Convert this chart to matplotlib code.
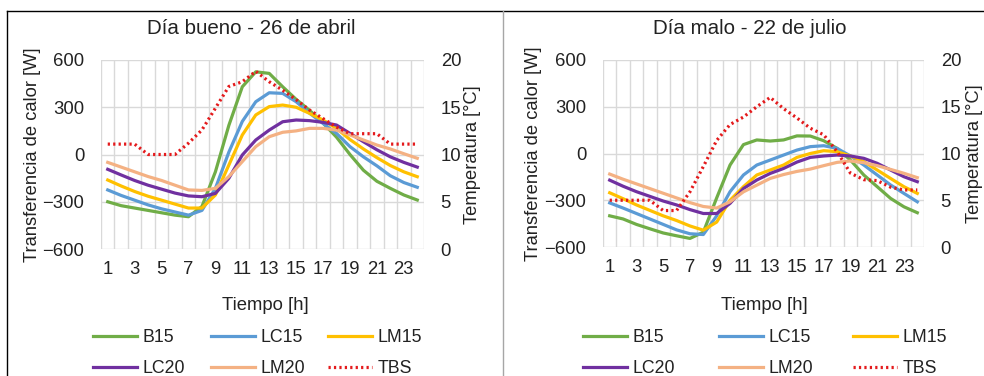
import matplotlib
matplotlib.use('Agg')
import matplotlib.pyplot as plt
from matplotlib.lines import Line2D
import numpy as np

plt.rcParams['font.family'] = ['Liberation Sans', 'DejaVu Sans']

hours = list(range(1, 25))
hour_ticks = list(range(1, 25, 2))

# Día bueno - 26 de abril  (W)
bueno_B15 = [-300, -325, -340, -355, -370, -385, -395, -330, -110, 185, 430, 525,
             515, 430, 350, 280, 200, 110, 0, -100, -170, -215, -257, -289]
bueno_LC15 = [-225, -260, -290, -320, -345, -365, -385, -355, -215, 15, 210, 335,
              392, 388, 335, 262, 197, 134, 50, -15, -72, -135, -178, -208]
bueno_LM15 = [-162, -200, -235, -265, -290, -315, -340, -340, -257, -67, 124, 251,
              304, 314, 300, 261, 219, 166, 95, 35, -20, -70, -110, -141]
bueno_LC20 = [-94, -130, -165, -195, -220, -245, -263, -268, -247, -151, -3, 92,
              155, 208, 219, 215, 204, 187, 134, 81, 30, -15, -50, -80]
bueno_LM20 = [-50, -80, -110, -140, -165, -195, -225, -228, -215, -140, -45, 50,
              113, 141, 150, 166, 166, 155, 124, 92, 60, 35, 5, -24]
# temperatura de bulbo seco (°C)
bueno_TBS = [11.1, 11.1, 11.1, 10.0, 10.0, 10.0, 11.2, 12.6, 14.9, 17.2, 17.7, 18.8,
             17.7, 16.8, 15.8, 14.7, 13.8, 12.9, 12.2, 12.2, 12.2, 11.1, 11.1, 11.1]

# Día malo - 22 de julio  (W)
malo_B15 = [-400, -420, -455, -483, -510, -528, -545, -505, -285, -74, 57, 87,
            80, 87, 113, 112, 82, 33, -42, -138, -213, -288, -342, -380]
malo_LC15 = [-317, -350, -385, -420, -455, -490, -515, -520, -400, -245, -138, -74,
             -42, -10, 22, 44, 50, 33, -16, -74, -138, -202, -256, -310]
malo_LM15 = [-252, -290, -330, -365, -400, -430, -465, -492, -440, -300, -213, -138,
             -106, -74, -25, 0, 18, 12, -16, -52, -106, -160, -213, -256]
malo_LC20 = [-171, -210, -245, -275, -305, -330, -360, -385, -385, -320, -225, -170,
             -128, -96, -55, -25, -16, -10, -16, -31, -63, -106, -149, -181]
malo_LM20 = [-132, -165, -195, -225, -255, -285, -315, -340, -350, -310, -246, -203,
             -160, -135, -115, -100, -78, -57, -48, -59, -78, -102, -127, -155]
malo_TBS = [5.0, 5.0, 5.0, 5.0, 3.9, 3.9, 5.9, 8.6, 11.4, 13.1, 13.9, 15.0,
            16.0, 14.8, 13.8, 12.7, 12.0, 10.2, 7.9, 7.2, 7.1, 6.4, 6.1, 6.1]

series_names = ['B15', 'LC15', 'LM15', 'LC20', 'LM20']
colors = ['#70AD47', '#5B9BD5', '#FFC000', '#7030A0', '#F4B183']
tbs_color = '#E41A1C'
tbs_style = (0, (0.7, 1.0))
text_color = '#222222'
grid_color = '#D9D9D9'

fig = plt.figure(figsize=(9.84, 3.76), dpi=100)
W, H = 984, 376


def px_axes(x0, y0, x1, y1):
    return fig.add_axes([x0 / W, 1 - y1 / H, (x1 - x0) / W, (y1 - y0) / H])


def draw_panel(ax, data, tbs, lab_left, lab_right):
    for name, vals, c in zip(series_names, data, colors):
        ax.plot(hours, vals, color=c, lw=2.3, label=name, zorder=3)
    ax.set_xlim(0.5, 24.5)
    ax.set_ylim(-600, 600)
    ax.set_yticks([-600, -300, 0, 300, 600])
    ax.set_xticks(hour_ticks)
    ax.set_xticks(np.arange(0.5, 25, 1), minor=True)
    ax.grid(True, which='minor', axis='x', color=grid_color, lw=1)
    ax.grid(True, which='major', axis='y', color=grid_color, lw=1)
    ax.set_axisbelow(True)
    ax.tick_params(which='both', length=0, labelsize=13.3, colors=text_color)
    ax.tick_params(axis='y', pad=12)
    ax.tick_params(axis='x', pad=9)
    for s in ax.spines.values():
        s.set_visible(False)
    ax.set_ylabel('Transferencia de calor [W]', fontsize=13.2, color=text_color,
                  va='center')
    ax.yaxis.set_label_coords(lab_left, 0.5)

    ax2 = ax.twinx()
    ax2.plot(hours, tbs, color=tbs_color, lw=2.3, ls=tbs_style,
             dash_capstyle='butt', label='TBS', zorder=4)
    ax2.set_ylim(0, 20)
    ax2.set_yticks([0, 5, 10, 15, 20])
    ax2.tick_params(length=0, labelsize=13.3, colors=text_color, pad=12)
    for s in ax2.spines.values():
        s.set_visible(False)
    ax2.set_ylabel('Temperatura [°C]', fontsize=13.2, color=text_color, va='center')
    ax2.yaxis.set_label_coords(lab_right, 0.5)
    return ax2


ax_l = px_axes(101, 60, 424, 249)
draw_panel(ax_l, [bueno_B15, bueno_LC15, bueno_LM15, bueno_LC20, bueno_LM20],
           bueno_TBS, -0.2136, 1.1517)
ax_r = px_axes(603, 60, 924, 247)
draw_panel(ax_r, [malo_B15, malo_LC15, malo_LM15, malo_LC20, malo_LM20],
           malo_TBS, -0.218, 1.1558)

fig.text(251 / W, 1 - 28 / H, 'Día bueno - 26 de abril', ha='center', va='center',
         fontsize=14.8, color=text_color)
fig.text(750 / W, 1 - 28 / H, 'Día malo - 22 de julio', ha='center', va='center',
         fontsize=14.8, color=text_color)
fig.text(265 / W, 1 - 306 / H, 'Tiempo [h]', ha='center', va='center',
         fontsize=13.3, color=text_color)
fig.text(764 / W, 1 - 306 / H, 'Tiempo [h]', ha='center', va='center',
         fontsize=13.3, color=text_color)

# legend: one small legend per column so the columns sit where Excel put them
handles = [Line2D([], [], color=c, lw=2.3) for c in colors]
handles.append(Line2D([], [], color=tbs_color, lw=2.3, ls=tbs_style))
labels = series_names + ['TBS']
columns = [(0, 3), (1, 4), (2, 5)]
for xs in [(93, 211, 328), (583, 719, 853)]:
    for x0, (a, b) in zip(xs, columns):
        fig.legend([handles[a], handles[b]], [labels[a], labels[b]],
                   loc='upper left', bbox_to_anchor=(x0 / W, 1 - 329 / H),
                   frameon=False, fontsize=12.8, handlelength=2.5,
                   handletextpad=0.3, labelspacing=0.8, borderpad=0,
                   borderaxespad=0, labelcolor=text_color)

# panel borders
fig.add_artist(Line2D([7 / W, 1], [1 - 11 / H, 1 - 11 / H], color='#000000', lw=1))
fig.add_artist(Line2D([7 / W, 7 / W], [0, 1 - 11 / H], color='#000000', lw=1))
fig.add_artist(Line2D([503 / W, 503 / W], [0, 1 - 11 / H], color='#A6A6A6', lw=1))

fig.savefig('out.png', dpi=100)
plt.close(fig)
